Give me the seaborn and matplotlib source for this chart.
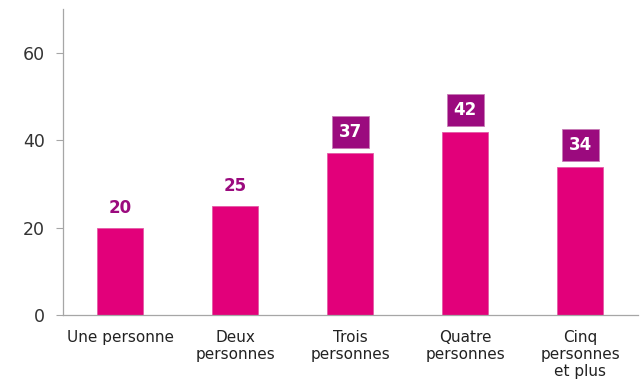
import matplotlib
matplotlib.use("Agg")
import matplotlib.pyplot as plt
import seaborn as sns
import pandas as pd
import numpy as np

categories = ["Une personne", "Deux\npersonnes", "Trois\npersonnes",
              "Quatre\npersonnes", "Cinq\npersonnes\net plus"]
values = [20, 25, 37, 42, 34]
boxed = [False, False, True, True, True]
yticks = [0, 20, 40, 60]

BAR = "#E2007A"
LABEL = "#9B0A7E"
AXIS = "#A6A6A6"
TEXT = "#333333"

sns.set_theme(style="white")
plt.rcParams["font.family"] = ["DejaVu Sans"]

df = pd.DataFrame({"cat": categories, "val": values})

fig = plt.figure(figsize=(6.41, 3.85), dpi=100)
ax = fig.add_axes([0.0983, 0.1818, 0.8967, 0.7938])

sns.barplot(data=df, x="cat", y="val", color=BAR, width=0.4,
            saturation=1, ax=ax, edgecolor="#E45AA6", linewidth=0.6)

ax.set_ylim(0, 70)
ax.set_xlim(-0.5, len(categories) - 0.5)
ax.set_yticks(yticks)
ax.set_xlabel("")
ax.set_ylabel("")

# category labels centred, tick marks between categories
ax.set_xticks(range(len(categories)))
ax.set_xticklabels(categories, fontsize=11, color="#222222", linespacing=1.15)
ax.set_xticks(np.arange(-0.5, len(categories)), minor=True)
ax.tick_params(axis="x", which="major", length=0, pad=11)
ax.tick_params(axis="x", which="minor", length=5, width=0.8, color=AXIS,
               direction="out")
ax.tick_params(axis="y", length=5, width=0.8, color=AXIS, labelsize=12.5,
               labelcolor=TEXT, pad=8, direction="out", left=True)

for side in ["top", "right"]:
    ax.spines[side].set_visible(False)
for side in ["left", "bottom"]:
    ax.spines[side].set_color(AXIS)
    ax.spines[side].set_linewidth(0.9)

for i, (v, b) in enumerate(zip(values, boxed)):
    if b:
        ax.annotate(str(v), (i, v), xytext=(0, 15.5), textcoords="offset points",
                    ha="center", va="center", fontsize=12, fontweight="bold",
                    color="white",
                    bbox=dict(boxstyle="square,pad=0.42", fc=LABEL, ec="#C77BB5",
                              lw=0.6))
    else:
        ax.annotate(str(v), (i, v), xytext=(0, 14), textcoords="offset points",
                    ha="center", va="center", fontsize=12, fontweight="bold",
                    color=LABEL)

fig.savefig("out.png", dpi=100)
